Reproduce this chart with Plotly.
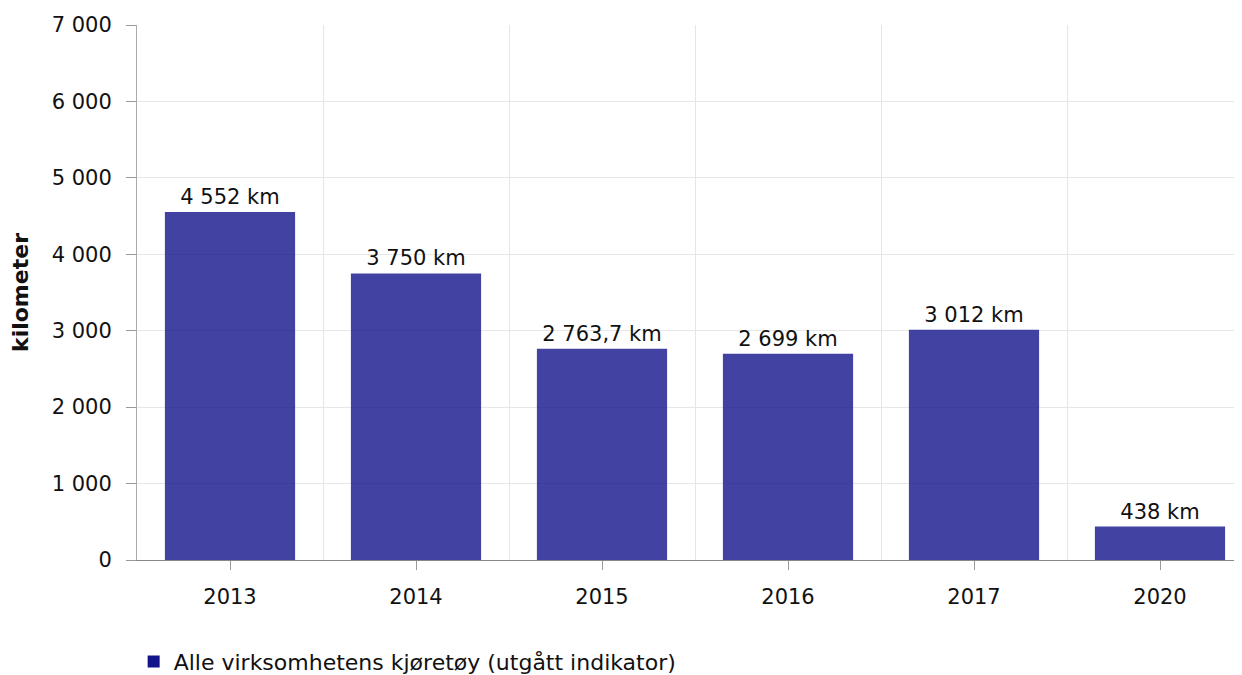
import plotly.graph_objects as go

years = ["2013", "2014", "2015", "2016", "2017", "2020"]
values = [4552, 3750, 2763.7, 2699, 3012, 438]
series_name = "Alle virksomhetens kjøretøy (utgått indikator)"
y_ticks = [0, 1000, 2000, 3000, 4000, 5000, 6000, 7000]

FONT = "Verdana, DejaVu Sans, sans-serif"
xpos = list(range(len(years)))

fig = go.Figure()
fig.add_trace(go.Bar(
    x=xpos, y=values, name=series_name,
    marker=dict(color="rgb(19,19,140)", opacity=0.8, line=dict(width=0)),
    texttemplate="%{y:,} km", textposition="outside",
    textfont=dict(family=FONT, size=21, color="#111"),
    cliponaxis=False, showlegend=True,
))

fig.update_layout(
    width=1245, height=700,
    margin=dict(l=129, r=0, t=17, b=148),
    plot_bgcolor="white", paper_bgcolor="white",
    separators=", ",
    bargap=0.3,
    font=dict(family=FONT, size=21, color="#111"),
    showlegend=True,
    legend=dict(x=-0.003, xanchor="left", y=-0.19, yanchor="middle",
                font=dict(family=FONT, size=22, color="#111"),
                bgcolor="rgba(0,0,0,0)"),
    xaxis=dict(
        range=[-0.5, 5.5],
        tickmode="array", tickvals=xpos, ticktext=years,
        showgrid=False, zeroline=False,
        showline=True, linecolor="#888", linewidth=1,
        ticks="outside", ticklen=9, tickcolor="#999",
        minor=dict(tickmode="linear", tick0=0.5, dtick=1, showgrid=True,
                   gridcolor="#e6e6e6", gridwidth=1, ticks=""),
        tickfont=dict(size=21),
        ticklabelstandoff=9,
    ),
    yaxis=dict(
        range=[0, 7000], tickvals=y_ticks, tickformat=",",
        showgrid=True, gridcolor="#e6e6e6", gridwidth=1,
        zeroline=False,
        showline=True, linecolor="#aaa", linewidth=1,
        ticks="outside", ticklen=10, tickcolor="#999",
        tickfont=dict(size=21),
        ticklabelstandoff=10,
        title=dict(text="<b>kilometer</b>", font=dict(size=22), standoff=16),
    ),
)

fig.write_html("out.html")
